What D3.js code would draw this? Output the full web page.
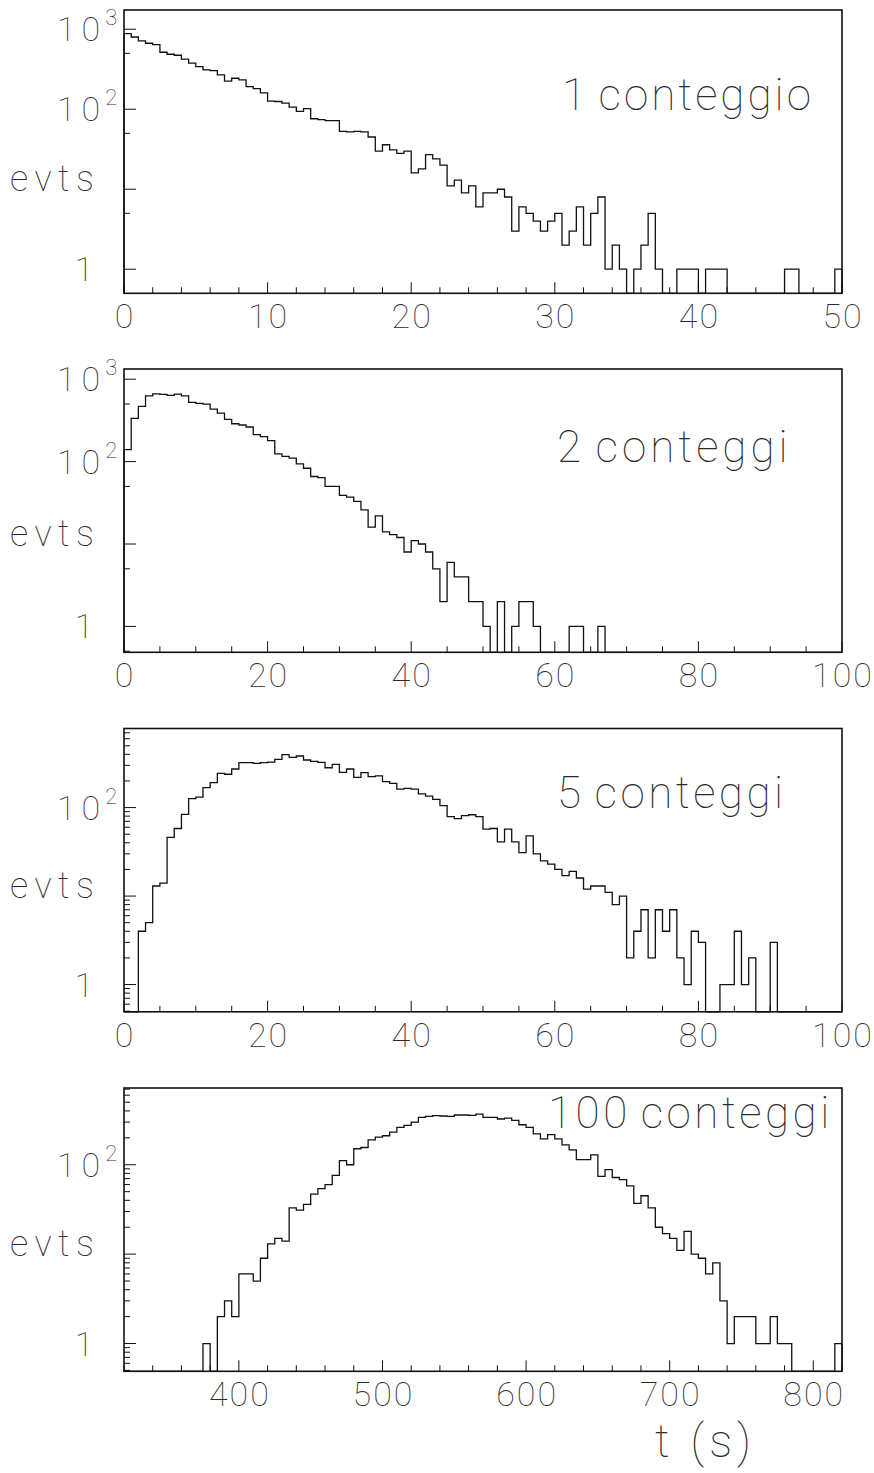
<!DOCTYPE html>
<html>
<head>
<meta charset="utf-8">
<script src="https://cdn.jsdelivr.net/npm/d3@7"></script>
<style>
  html, body { margin:0; padding:0; background:#fff; }
  .canvas { width:874px; height:1473px; }
  svg text { font-family: Roboto, "Noto Sans", sans-serif; font-weight:100; fill:#2a2a2a; }
</style>
</head>
<body>
<div class="canvas" id="canvas"></div>
<script>
// --- bin contents (100 bins per histogram)
var counts1 = [880,800,715,668,643,516,487,473,422,376,
               341,310,304,269,224,244,233,192,181,160,
               126,125,119,106,94,102,76,74,72,72,
               53,52,53,52,45,30,36,31,28,30,
               16,18,27,24,20,11,13,9,11,6,
               9,9,10,8,3,6,5,4,3,4,
               5,2,3,6,2,5,8,1,2,1,
               0,1,2,5,1,0,0,1,1,1,
               0,1,1,1,0,0,0,0,0,0,
               0,0,1,1,0,0,0,0,0,1];

var counts2 = [140,334,467,629,665,653,635,659,629,522,
               508,499,434,388,325,288,278,263,212,201,
               180,124,116,110,94,83,66,64,50,50,
               39,37,33,26,16,22,14,13,12,8,
               11,10,8,5,2,6,4,4,2,2,
               1,0,2,0,1,2,2,1,0,0,
               0,0,1,1,0,0,1,0,0,0,
               0,0,0,0,0,0,0,0,0,0,
               0,0,0,0,0,0,0,0,0,0,
               0,0,0,0,0,0,0,0,0,0];

var counts5 = [0,0,4,5,13,14,46,58,84,126,
               131,168,191,244,238,273,322,322,316,322,
               327,351,396,370,383,345,333,325,282,308,
               250,273,220,248,224,228,196,188,162,165,
               162,143,135,124,105,79,75,81,83,79,
               57,58,41,57,41,31,48,30,25,23,
               20,17,19,16,12,13,13,11,8,10,
               2,4,7,2,7,4,7,2,1,4,
               3,0,0,1,1,4,1,2,0,0,
               3,0,0,0,0,0,0,0,0,0];

var counts100 = [0,0,0,0,0,0,0,0,0,0,
                 0,1,0,2,3,2,6,6,5,9,
                 13,15,14,33,31,36,47,54,60,76,
                 111,100,151,156,190,204,211,232,262,275,
                 300,339,348,354,351,348,360,360,357,369,
                 339,339,325,333,314,280,262,222,195,217,
                 195,167,147,114,114,129,74,88,72,68,
                 58,37,45,33,20,17,15,11,18,10,
                 9,6,8,3,1,2,2,2,1,1,
                 2,1,1,0,0,0,0,0,0,1];

// --- axis ranges and labels
var tRange1 = [0, 50], tRange2 = [0, 100], tRange5 = [0, 100], tRange100 = [320, 820];
var yRange1 = [0.5, 1740], yRange2 = [0.485, 1330], yRange5 = [0.492, 783], yRange100 = [0.489, 722];
var tTicks1 = [0, 10, 20, 30, 40, 50];
var tTicks2 = [0, 20, 40, 60, 80, 100];
var tTicks5 = [0, 20, 40, 60, 80, 100];
var tTicks100 = [400, 500, 600, 700, 800];
var yLabels1 = [1, 100, 1000], yLabels2 = [1, 100, 1000], yLabels5 = [1, 100], yLabels100 = [1, 100];
var titles = ['1 conteggio', '2 conteggi', '5 conteggi', '100 conteggi'];

// --- layout
var M = {left:124};
var w = 718, h = 283.3;
var tops = [10, 369, 728.5, 1088];

var svg = d3.select('.canvas')
  .append('svg')
  .attr('width', 874)
  .attr('height', 1473);

var panels = [
  {counts:counts1, t:tRange1, y:yRange1, ticks:tTicks1, minor:2, yl:yLabels1, fullLog:false,
   title:titles[0], tx:562, ty:110, ls:3},
  {counts:counts2, t:tRange2, y:yRange2, ticks:tTicks2, minor:5, yl:yLabels2, fullLog:false,
   title:titles[1], tx:557, ty:462, ls:4},
  {counts:counts5, t:tRange5, y:yRange5, ticks:tTicks5, minor:5, yl:yLabels5, fullLog:true,
   title:titles[2], tx:557, ty:808, ls:3.5},
  {counts:counts100, t:tRange100, y:yRange100, ticks:tTicks100, minor:20, yl:yLabels100, fullLog:true,
   title:titles[3], tx:548, ty:1128, ls:3.5}
];

panels.forEach(function(p, k){
  var g = svg.append('g')
    .attr('transform', 'translate(' + M.left + ',' + tops[k] + ')');

  var x = d3.scaleLinear().domain(p.t).range([0, w]);
  var y = d3.scaleLog().domain(p.y).range([h, 0]);

  // --- histogram outline
  var n = p.counts.length;
  var bw = (p.t[1] - p.t[0]) / n;
  var pts = [[p.t[0], null]];
  p.counts.forEach(function(c, i){
    var lo = p.t[0] + i * bw;
    pts.push([lo, c]);
    pts.push([lo + bw, c]);
  });
  pts.push([p.t[1], null]);

  var line = d3.line()
    .x(function(d){ return x(d[0]); })
    .y(function(d){ return d[1] > 0 ? y(d[1]) : h; });

  g.append('path')
    .attr('d', line(pts))
    .attr('fill', 'none')
    .attr('stroke', '#111')
    .attr('stroke-width', 1.3);

  // --- frame
  g.append('rect')
    .attr('width', w)
    .attr('height', h)
    .attr('fill', 'none')
    .attr('stroke', '#111')
    .attr('stroke-width', 1.6);

  // --- x ticks (minor every p.minor, major at labels)
  var xt = d3.range(p.t[0], p.t[1] + 0.001, p.minor);
  g.selectAll('.xt')
    .data(xt)
    .enter().append('line')
    .attr('x1', function(d){ return x(d); })
    .attr('x2', function(d){ return x(d); })
    .attr('y1', h)
    .attr('y2', function(d){ return p.ticks.indexOf(d) >= 0 ? h - 11 : h - 6; })
    .attr('stroke', '#111')
    .attr('stroke-width', 1);

  g.selectAll('.xl')
    .data(p.ticks)
    .enter().append('text')
    .attr('x', function(d){ return x(d) + 1; })
    .attr('y', h + 35)
    .attr('text-anchor', 'middle')
    .style('font-size', '34px')
    .style('letter-spacing', '2px')
    .text(function(d){ return d; });

  // --- y ticks on log scale
  var yt = [];
  for (var e = -1; e <= 4; e++) {
    var mult = p.fullLog ? [1,2,3,4,5,6,7,8,9] : [1,5];
    mult.forEach(function(m){
      var v = m * Math.pow(10, e);
      if (v > p.y[0] && v < p.y[1]) yt.push({v:v, major:m === 1});
    });
  }
  g.selectAll('.yt')
    .data(yt)
    .enter().append('line')
    .attr('x1', 0)
    .attr('x2', function(d){ return d.major ? 12 : 6; })
    .attr('y1', function(d){ return y(d.v); })
    .attr('y2', function(d){ return y(d.v); })
    .attr('stroke', '#111')
    .attr('stroke-width', 1);

  p.yl.forEach(function(v){
    var t = g.append('text')
      .attr('y', y(v) + 12)
      .style('font-size', '34px');
    if (v === 1) {
      t.attr('x', -40).attr('text-anchor', 'middle').text('1');
    } else {
      t.attr('x', -67).attr('text-anchor', 'start')
        .style('letter-spacing', '6px').text('10');
      t.append('tspan')
        .attr('dx', -1)
        .attr('dy', -16)
        .style('font-size', '22px')
        .style('letter-spacing', '0px')
        .text(Math.round(Math.log10(v)));
    }
  });

  g.append('text')
    .attr('x', -114)
    .attr('y', y(10) + 2)
    .style('font-size', '36px')
    .style('letter-spacing', '6.5px')
    .text('evts');

  // --- title
  svg.append('text')
    .attr('x', p.tx)
    .attr('y', p.ty)
    .style('font-size', '44px')
    .style('letter-spacing', p.ls + 'px')
    .style('word-spacing', '-4px')
    .text(p.title);
});

svg.append('text')
  .attr('x', 655)
  .attr('y', 1457)
  .style('font-size', '46px')
  .style('letter-spacing', '5px')
  .text('t (s)');
</script>
</body>
</html>
